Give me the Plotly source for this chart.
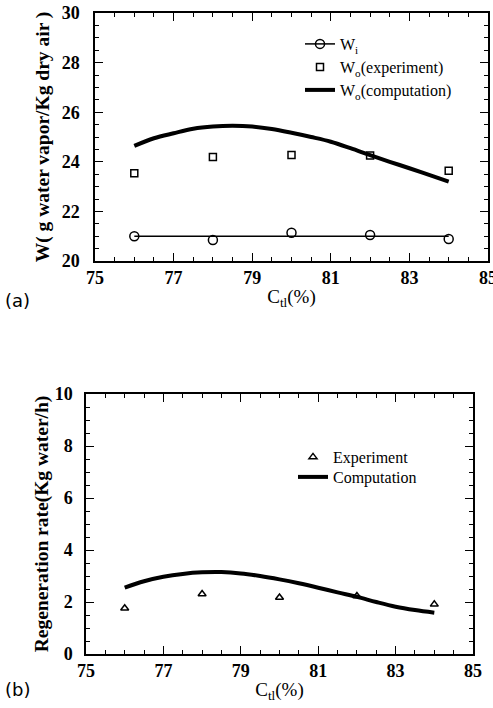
import plotly.graph_objects as go

# ---- data: panel (a) ----
ctl_exp = [76, 78, 80, 82, 84]
wi_exp = [21.0, 20.85, 21.14, 21.05, 20.89]
wi_fit_x = [76, 84]
wi_fit_y = [21.0, 21.0]
wo_exp = [23.54, 24.19, 24.27, 24.25, 23.64]
ctl_comp = [76, 76.5, 77, 77.5, 78, 78.5, 79, 79.5, 80, 80.5, 81, 81.5, 82, 82.5, 83, 83.5, 84]
wo_comp = [24.64, 24.95, 25.15, 25.33, 25.42, 25.45, 25.42, 25.32, 25.17, 25.0, 24.81, 24.55, 24.27, 24.0, 23.74, 23.47, 23.2]

# ---- data: panel (b) ----
regen_exp = [1.76, 2.31, 2.17, 2.23, 1.91]
regen_comp = [2.55, 2.8, 2.97, 3.08, 3.14, 3.15, 3.1, 3.0, 2.87, 2.72, 2.55, 2.37, 2.2, 2.0, 1.82, 1.69, 1.59]

x_range = [75, 85]
ya_range = [20, 30]
yb_range = [0, 10]

W, H = 493, 708
SERIF = "Liberation Serif"

fig = go.Figure()

# panel (a)
fig.add_trace(go.Scatter(x=wi_fit_x, y=wi_fit_y, mode="lines", line=dict(color="black", width=1.5),
                         showlegend=False, xaxis="x", yaxis="y"))
fig.add_trace(go.Scatter(x=ctl_exp, y=wi_exp, mode="markers",
                         marker=dict(symbol="circle-open", size=9, color="black", line=dict(width=1.5)),
                         showlegend=False, xaxis="x", yaxis="y"))
fig.add_trace(go.Scatter(x=[None], y=[None], mode="lines+markers", name="W<sub>i</sub>",
                         line=dict(color="black", width=1.5),
                         marker=dict(symbol="circle-open", size=9, color="black", line=dict(width=1.5)),
                         legend="legend", xaxis="x", yaxis="y"))
fig.add_trace(go.Scatter(x=ctl_exp, y=wo_exp, mode="markers", name="W<sub>o</sub>(experiment)",
                         marker=dict(symbol="square-open", size=7, color="black", line=dict(width=1.5)),
                         legend="legend3", xaxis="x", yaxis="y"))
fig.add_trace(go.Scatter(x=ctl_comp, y=wo_comp, mode="lines", name="W<sub>o</sub>(computation)",
                         line=dict(color="black", width=4, shape="spline"),
                         legend="legend4", xaxis="x", yaxis="y"))

# panel (b)
fig.add_trace(go.Scatter(x=ctl_exp, y=regen_exp, mode="markers", name="Experiment",
                         marker=dict(symbol="triangle-up-open", size=7, color="black", line=dict(width=1.5)),
                         legend="legend2", xaxis="x2", yaxis="y2"))
fig.add_trace(go.Scatter(x=ctl_comp, y=regen_comp, mode="lines", name="Computation",
                         line=dict(color="black", width=4, shape="spline"),
                         legend="legend5", xaxis="x2", yaxis="y2"))

tickfont = dict(family=SERIF, size=18, color="black", weight="bold")
axis_common = dict(showline=True, linecolor="black", linewidth=1.5, mirror="allticks",
                   ticks="inside", ticklen=8, tickwidth=1.3, tickcolor="black",
                   showgrid=False, zeroline=False, tickfont=tickfont, automargin=False,
                   tickmode="linear", dtick=2, ticklabeloverflow="allow",
                   minor=dict(ticks="inside", ticklen=4, tickwidth=1, tickcolor="black", dtick=0.5, showgrid=False))


def leg(xpx, ypx):
    return dict(x=xpx / W, y=1 - ypx / H, xanchor="left", yanchor="middle", bgcolor="rgba(0,0,0,0)",
                font=dict(family=SERIF, size=16, color="black"), tracegroupgap=0)


fig.update_layout(
    template="none",
    width=W, height=H, margin=dict(l=0, r=0, t=0, b=0, autoexpand=False),
    plot_bgcolor="white", paper_bgcolor="white",
    xaxis=dict(domain=[95 / W, 488 / W], range=x_range, tick0=75, anchor="y",
               title=dict(text="C<sub>tl</sub>(%)", font=dict(family=SERIF, size=19, color="black"), standoff=2),
               ticklabelstandoff=0, **axis_common),
    yaxis=dict(domain=[1 - 261 / H, 1 - 13 / H], range=ya_range, tick0=20, anchor="x",
               title=dict(text="W( g water vapor/Kg dry air )", font=dict(family=SERIF, size=19.5, color="black", weight="bold"), standoff=7),
               ticklabelstandoff=10, **axis_common),
    xaxis2=dict(domain=[86 / W, 473 / W], range=x_range, tick0=75, anchor="y2",
                title=dict(text="C<sub>tl</sub>(%)", font=dict(family=SERIF, size=19, color="black"), standoff=2),
                ticklabelstandoff=0, **axis_common),
    yaxis2=dict(domain=[1 - 654 / H, 1 - 394 / H], range=yb_range, tick0=0, anchor="x2",
                title=dict(text="Regeneration rate(Kg water/h)", font=dict(family=SERIF, size=19.5, color="black", weight="bold"), standoff=1),
                ticklabelstandoff=8, **axis_common),
    legend=leg(300, 44),
    legend3=leg(300, 67),
    legend4=leg(300, 90),
    legend2=leg(293, 457),
    legend5=leg(293, 477),
    annotations=[
        dict(text="(a)", x=3 / W, y=1 - 300 / H, xref="paper", yref="paper", xanchor="left", yanchor="middle",
             showarrow=False, font=dict(family="DejaVu Sans", size=18, color="black")),
        dict(text="(b)", x=3 / W, y=1 - 689 / H, xref="paper", yref="paper", xanchor="left", yanchor="middle",
             showarrow=False, font=dict(family="DejaVu Sans", size=18, color="black")),
    ],
)

fig.write_html("out.html")
